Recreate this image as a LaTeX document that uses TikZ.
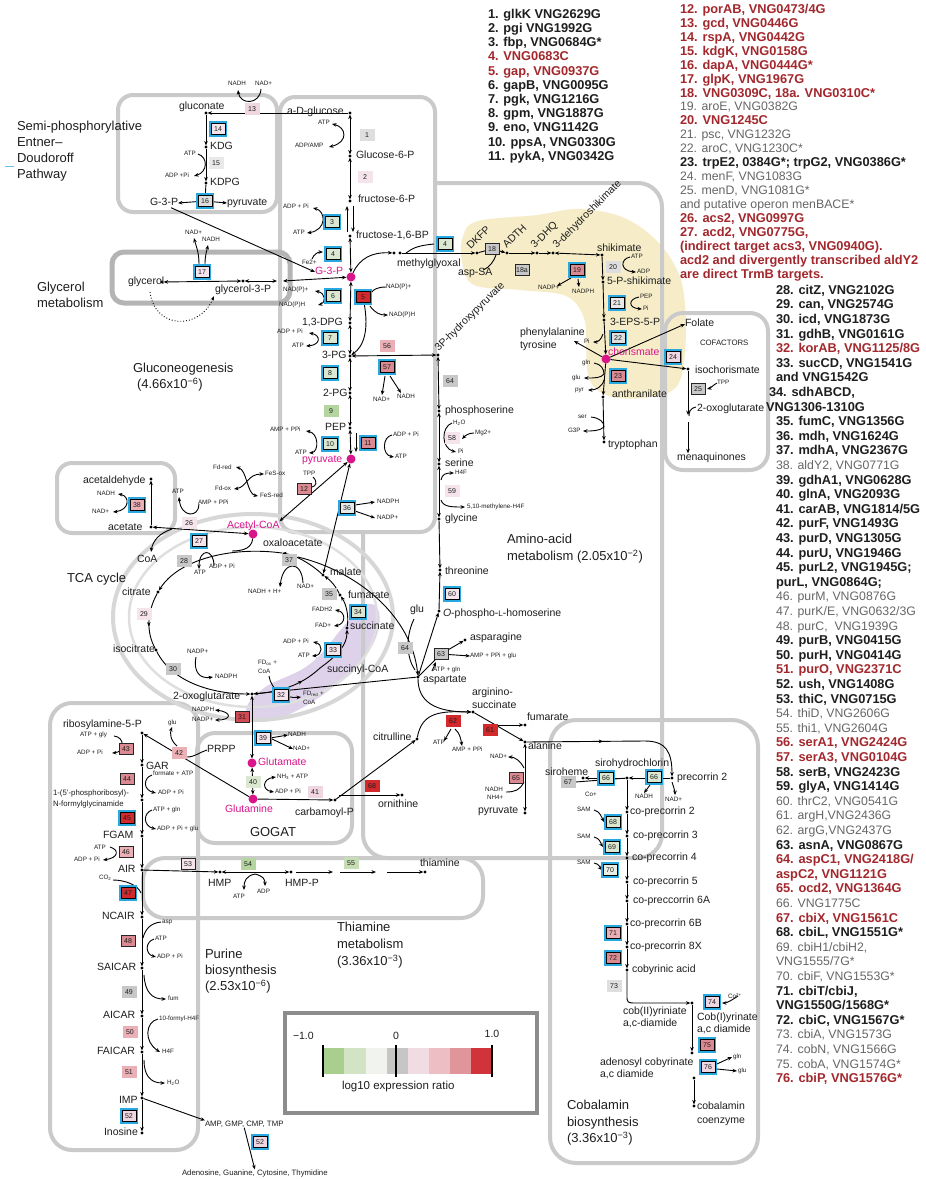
\documentclass[tikz,border=0pt]{standalone}
\usepackage{fontspec}
\setmainfont{Liberation Sans}
\usetikzlibrary{arrows.meta,decorations.markings,calc}
\pgfdeclarelayer{back}
\pgfdeclarelayer{lines}
\pgfsetlayers{back,lines,main}
\definecolor{cyanE}{HTML}{29A8E0}
\definecolor{regc}{HTML}{CACACA}
\definecolor{regd}{HTML}{B4B4B4}
\definecolor{lred}{HTML}{A3282D}
\definecolor{lgray}{HTML}{666666}
\definecolor{mag}{HTML}{D9158C}
\definecolor{txt}{HTML}{1E1E1E}
\definecolor{yel}{HTML}{F6EDC8}
\definecolor{lav}{HTML}{DDD2EA}
\definecolor{legc}{HTML}{8C8C8C}
\definecolor{gA}{HTML}{C8C8C8}
\definecolor{gB}{HTML}{DEDEDE}
\definecolor{gC}{HTML}{E9E9E9}
\definecolor{grA}{HTML}{B5D5A0}
\definecolor{grB}{HTML}{DCE7D2}
\definecolor{grC}{HTML}{E9F0E2}
\definecolor{grD}{HTML}{C6DDB5}
\definecolor{pA}{HTML}{F5E4EC}
\definecolor{pB}{HTML}{F0D6E0}
\definecolor{pC}{HTML}{EAB0B6}
\definecolor{pD}{HTML}{DB8A92}
\definecolor{rA}{HTML}{D2292C}
\definecolor{rB}{HTML}{D04A55}
\definecolor{lc1}{HTML}{A9CF8F}
\definecolor{lc2}{HTML}{D2E4C4}
\definecolor{lc3}{HTML}{F1F4EE}
\definecolor{lc4}{HTML}{C6C6C6}
\definecolor{lc5}{HTML}{F2DCE4}
\definecolor{lc6}{HTML}{EDBFC4}
\definecolor{lc7}{HTML}{E0959B}
\definecolor{lc8}{HTML}{D0343A}
\newcommand{\mlab}[4]{\node[lab] (#1) at (#2,#3) {#4};}
\newcommand{\mglab}[4]{\node[mg] (#1) at (#2,#3) {#4};}
\newcommand{\smlab}[4]{\node[sm] (#1) at (#2,#3) {#4};}
\newcommand{\enzC}[5]{\node[cbx,fill=#5] (#1) at (#2,#3) {#4};}
\newcommand{\enzB}[5]{\node[bbx,fill=#5] (#1) at (#2,#3) {#4};}
\newcommand{\enzP}[5]{\node[pbx,fill=#5] (#1) at (#2,#3) {#4};}
\newcommand{\dotn}[3]{\node[dotst] (#1) at (#2,#3) {};}
\newcommand{\gline}[5]{\node[#4] (#1) at (#2,#3) {#5};}
\begin{document}
\begin{tikzpicture}[x=1pt,y=-1pt,
  every node/.style={text=txt,inner sep=0pt,outer sep=0pt},
  lab/.style={font=\fontsize{10.5}{12}\selectfont,anchor=west,text height=7.4pt,text depth=2pt},
  mg/.style={lab,text=mag},
  sm/.style={font=\fontsize{6.3}{7}\selectfont,anchor=west,text height=4.5pt,text depth=1.2pt},
  ssm/.style={font=\fontsize{7.8}{9}\selectfont,anchor=west,text height=5.6pt,text depth=1.6pt},
  ttl/.style={font=\fontsize{13}{15}\selectfont,anchor=west,text height=9.3pt,text depth=2.6pt},
  lb/.style={font=\fontsize{12.8}{14}\selectfont\bfseries,anchor=west,text height=9.2pt,text depth=2.5pt},
  lr/.style={lb,text=lred},
  lg/.style={font=\fontsize{12.3}{14}\selectfont,anchor=west,text=lgray,text height=8.8pt,text depth=2.4pt},
  cbx/.style={draw=black,line width=0.9pt,minimum width=14pt,minimum height=11.5pt,font=\fontsize{7}{8}\selectfont,preaction={draw=cyanE,line width=4.2pt}},
  bbx/.style={draw=black!85,line width=0.9pt,minimum width=14pt,minimum height=11.5pt,font=\fontsize{7}{8}\selectfont},
  pbx/.style={minimum width=15pt,minimum height=12.5pt,font=\fontsize{7}{8}\selectfont},
  dotst/.style={circle,fill=black,minimum size=3.2pt},
  mdot/.style={circle,fill=mag,minimum size=9pt},
  ar/.style={-{Stealth[length=4.5pt,width=3.6pt]},line width=0.9pt},
  dar/.style={{Stealth[length=4.5pt,width=3.6pt]}-{Stealth[length=4.5pt,width=3.6pt]},line width=0.9pt},
  ln/.style={line width=0.9pt},
  midar/.style={postaction={decorate,decoration={markings,mark=at position #1 with {\arrow{Stealth[length=4.5pt,width=3.6pt]}}}}},
  region/.style={draw=regc,line width=4pt,rounded corners=18pt}
]
\useasboundingbox (0,0) rectangle (926,1179);

% ================= enzyme boxes =================
\enzP{e1}{367}{135}{1}{gB}
\enzP{e2}{365}{177}{2}{pA}
\enzC{e3}{332}{222}{3}{grB}
\enzC{e4}{333}{254}{4}{grB}
\enzC{e4b}{445}{244}{4}{grB}
\enzC{e5}{363}{297}{5}{rA}
\enzC{e6}{333}{296}{6}{grB}
\enzC{e7}{330}{338}{7}{grB}
\enzC{e8}{330}{373}{8}{grB}
\enzP{e9}{331}{411}{9}{grA}
\enzC{e10}{330}{444}{10}{grB}
\enzC{e11}{368}{443}{11}{pD}
\enzB{e12}{304}{489}{12}{pD}
\enzP{e13}{252}{109}{13}{pB}
\enzC{e14}{218}{129}{14}{pA}
\enzP{e15}{216}{163}{15}{gC}
\enzC{e16}{205}{201}{16}{gB}
\enzC{e17}{202}{272}{17}{pA}
\enzB{e18}{492}{249}{18}{gA}
\enzB{e18a}{522}{270}{18a}{gA}
\enzC{e19}{577}{270}{19}{pD}
\enzP{e20}{613}{267}{20}{gB}
\enzC{e21}{617}{303}{21}{gC}
\enzC{e22}{618}{338}{22}{gB}
\enzC{e23}{618}{376}{23}{pD}
\enzC{e24}{673}{357}{24}{pB}
\enzB{e25}{698}{389}{25}{gA}
\enzP{e26}{189}{523}{26}{pA}
\enzC{e27}{199}{541}{27}{pA}
\enzP{e28}{184}{561}{28}{gA}
\enzP{e29}{144}{614}{29}{pA}
\enzP{e30}{173}{669}{30}{gA}
\enzB{e31}{242}{717}{31}{rB}
\enzC{e32}{281}{695}{32}{pA}
\enzC{e33}{333}{650}{33}{pA}
\enzC{e34}{358}{612}{34}{grB}
\enzP{e35}{329}{594}{35}{gA}
\enzC{e36}{347}{508}{36}{gC}
\enzP{e37}{289}{560}{37}{gA}
\enzC{e38}{137}{505}{38}{pC}
\enzC{e39}{263}{738}{39}{pA}
\enzP{e40}{253}{782}{40}{grB}
\enzP{e41}{315}{792}{41}{pB}
\enzP{e42}{179}{753}{42}{pC}
\enzB{e43}{126}{749}{43}{pD}
\enzB{e44}{127}{779}{44}{pD}
\enzC{e45}{127}{818}{45}{rA}
\enzB{e46}{126}{852}{46}{pC}
\enzC{e47}{128}{893}{47}{rA}
\enzB{e48}{128}{941}{48}{pD}
\enzP{e49}{129}{992}{49}{gA}
\enzP{e50}{130}{1032}{50}{pC}
\enzP{e51}{129}{1072}{51}{pC}
\enzC{e52}{129}{1116}{52}{pB}
\enzC{e52b}{260}{1142}{52}{pB}
\enzB{e53}{188}{864}{53}{pA}
\enzP{e54}{248}{864}{54}{grA}
\enzP{e55}{351}{863}{55}{grD}
\enzP{e56}{387}{346}{56}{pC}
\enzC{e57}{387}{367}{57}{pD}
\enzP{e58}{452}{438}{58}{pA}
\enzP{e59}{452}{491}{59}{pA}
\enzC{e60}{452}{594}{60}{pA}
\enzP{e61}{490}{730}{61}{rA}
\enzP{e62}{453}{721}{62}{rA}
\enzB{e63}{441}{654}{63}{gA}
\enzP{e64}{450}{381}{64}{gA}
\enzP{e64b}{405}{648}{64}{gA}
\enzB{e65}{516}{778}{65}{pD}
\enzC{e66}{606}{778}{66}{grB}
\enzC{e66b}{654}{777}{66}{grB}
\enzP{e67}{568}{782}{67}{gA}
\enzP{e68}{372}{786}{68}{rA}
\enzC{e68c}{613}{822}{68}{grB}
\enzC{e69}{612}{847}{69}{grB}
\enzC{e70}{610}{870}{70}{grC}
\enzC{e71}{613}{933}{71}{pC}
\enzC{e72}{613}{958}{72}{pD}
\enzP{e73}{614}{986}{73}{gB}
\enzC{e74}{712}{1002}{74}{pB}
\enzC{e75}{707}{1045}{75}{pD}
\enzC{e76}{708}{1067}{76}{pB}

% ================= dots =================
\dotn{dGluc}{206}{113}
\dotn{dGlc}{350}{113}
\dotn{dKDG}{206}{147}
\dotn{dKDPG}{206}{183}
\dotn{dG6P}{350}{156}
\dotn{dF6P}{350}{201}
\dotn{dF16}{350}{236}
\node[mdot] (mG3P) at (351,277) {};
\dotn{dMG1}{394}{253}
\dotn{dMG2}{400}{253}
\dotn{dGlyc}{162}{282}
\dotn{dGl3P}{243}{281}
\dotn{dDPG}{350}{323}
\dotn{dPG3}{350}{356}
\dotn{dPG2}{350}{393}
\dotn{dPEP}{350}{428}
\node[mdot] (mPyr) at (351,459) {};
\dotn{dAld}{151}{479}
\dotn{dAcet}{151}{527}
\node[mdot] (mAcoa) at (253,534) {};
\dotn{dCit}{158}{592}
\dotn{dIcit}{156}{650}
\dotn{dOxg}{252}{694}
\dotn{dMal}{323}{575}
\dotn{dFum}{340}{595}
\dotn{dSuc}{347}{628}
\node[mdot] (mGlu) at (252,763) {};
\node[mdot] (mGln) at (253,799) {};
\dotn{dCP}{335}{800}
\dotn{dCitr}{417}{739}
\dotn{dOrn}{402}{795}
\dotn{dR5P}{142}{733}
\dotn{dGAR}{142}{765}
\dotn{dFGAR}{142}{800}
\dotn{dFGAM}{142}{836}
\dotn{dAIR}{142}{870}
\dotn{dNCAIR}{142}{917}
\dotn{dSAICAR}{142}{968}
\dotn{dAICAR}{142}{1016}
\dotn{dFAICAR}{142}{1052}
\dotn{dIMP}{142}{1098}
\dotn{dIno}{142}{1133}
\dotn{dHMP}{220}{872}
\dotn{dHMPP}{291}{872}
\dotn{dThi}{425}{872}
\dotn{d3PHP}{438}{355}
\dotn{dPser}{439}{411}
\dotn{dSer}{439}{464}
\dotn{dGly}{439}{519}
\dotn{dThr}{440}{570}
\dotn{dOph}{439}{611}
\dotn{dAsn}{465}{640}
\dotn{dAsp}{418}{677}
\dotn{dArgs}{473}{712}
\dotn{dFumA}{525}{725}
\dotn{dAla}{525}{742}
\dotn{dPyrA}{525}{813}
\dotn{dDKFP}{477}{253}
\dotn{dADTH}{507}{253}
\dotn{dDHQ}{537}{253}
\dotn{dDHS}{553}{253}
\dotn{dShik}{602}{255}
\dotn{d5PS}{603}{282}
\dotn{dEPS}{604}{320}
\node[mdot] (mChor) at (606,359) {};
\dotn{dIsoc}{688}{369}
\dotn{dAnth}{603}{397}
\dotn{dTrp}{604}{442}
\dotn{dSirh}{583}{778}
\dotn{dShc}{627}{778}
\dotn{dPrc2}{672}{778}
\dotn{dCp2}{627}{812}
\dotn{dCp3}{627}{836}
\dotn{dCp4}{627}{858}
\dotn{dCp5}{627}{882}
\dotn{dCp6A}{627}{901}
\dotn{dCp6B}{627}{924}
\dotn{dCp8X}{627}{947}
\dotn{dCby}{627}{970}
\dotn{dCob2}{692}{1003}
\dotn{dAdo}{692}{1053}
\dotn{dAdo2}{694}{1078}
\dotn{dCbl}{694}{1106}

% ================= metabolite labels =================
\mlab{tGluc}{179}{107}{gluconate}
\mlab{tKDG}{210}{147}{KDG}
\mlab{tKDPG}{210}{183}{KDPG}
\mlab{tG3Ped}{150}{203}{G-3-P}
\mlab{tPyred}{227}{203}{pyruvate}
\mlab{tGlc}{287}{112}{a-D-glucose}
\mlab{tG6P}{356}{156}{Glucose-6-P}
\mlab{tF6P}{358}{200}{fructose-6-P}
\mlab{tF16}{356}{236}{fructose-1,6-BP}
\mglab{tG3Pm}{315}{272}{G-3-P}
\mlab{tMG}{397}{264}{methylglyoxal}
\mlab{tGlyc}{128}{282}{glycerol}
\mlab{tGl3P}{215}{290}{glycerol-3-P}
\mlab{tDPG}{302}{323}{1,3-DPG}
\mlab{tPG3}{322}{356}{3-PG}
\mlab{tPG2}{323}{394}{2-PG}
\mlab{tPEP}{325}{428}{PEP}
\mglab{tPyrm}{302}{460}{pyruvate}
\mlab{tAld}{83}{481}{acetaldehyde}
\mlab{tAcet}{108}{528}{acetate}
\mlab{tCoA}{137}{560}{CoA}
\mglab{tAcoa}{227}{526}{Acetyl-CoA}
\mlab{tOaa}{263}{544}{oxaloacetate}
\mlab{tCit}{122}{593}{citrate}
\mlab{tIcit}{113}{650}{isocitrate}
\mlab{tOxg}{173}{697}{2-oxoglutarate}
\mlab{tMal}{330}{573}{malate}
\mlab{tFum}{348}{596}{fumarate}
\mlab{tSuc}{350}{627}{succinate}
\mlab{tSCoA}{327}{670}{succinyl-CoA}
\mglab{tGlu}{258}{763}{Glutamate}
\mglab{tGln}{225}{810}{Glutamine}
\mlab{tCP}{295}{813}{carbamoyl-P}
\mlab{tCitr}{373}{738}{citrulline}
\mlab{tOrn}{378}{805}{ornithine}
\mlab{tPRPP}{207}{750}{PRPP}
\mlab{tR5P}{63}{725}{ribosylamine-5-P}
\mlab{tGAR}{146}{767}{GAR}
\node[ssm] (tFGAR1) at (53,793) {1-(5'-phosphoribosyl)-};
\node[ssm] (tFGAR2) at (53,804) {N-formylglycinamide};
\mlab{tFGAM}{103}{836}{FGAM}
\mlab{tAIR}{118}{870}{AIR}
\mlab{tNCAIR}{102}{917}{NCAIR}
\mlab{tSAICAR}{97}{968}{SAICAR}
\mlab{tAICAR}{103}{1016}{AICAR}
\mlab{tFAICAR}{97}{1052}{FAICAR}
\mlab{tIMP}{119}{1101}{IMP}
\mlab{tIno}{104}{1133}{Inosine}
\node[ssm] (tAMP) at (205,1124) {AMP, GMP, CMP, TMP};
\node[ssm] (tAden) at (182,1173) {Adenosine, Guanine, Cytosine, Thymidine};
\mlab{tHMP}{208}{884}{HMP}
\mlab{tHMPP}{285}{884}{HMP-P}
\mlab{tThi}{420}{864}{thiamine}
\node[lab,rotate=45] (t3PHP) at (437,350) {3P-hydroxypyruvate};
\mlab{tPser}{445}{411}{phosphoserine}
\mlab{tSer}{445}{464}{serine}
\mlab{tGly}{445}{519}{glycine}
\mlab{tThr}{445}{572}{threonine}
\mlab{tOph}{443}{614}{\textit{O}-phospho-{\fontsize{8}{9}\selectfont L}-homoserine}
\mlab{tAsn}{470}{638}{asparagine}
\mlab{tAsp}{423}{680}{aspartate}
\mlab{tGluA}{410}{610}{glu}
\mlab{tArg1}{472}{693}{arginino-}
\mlab{tArg2}{472}{706}{succinate}
\mlab{tFumA}{527}{718}{fumarate}
\mlab{tAla}{528}{747}{alanine}
\mlab{tPyrA}{478}{811}{pyruvate}
\node[lab,rotate=45] (tDKFP) at (469,248) {DKFP};
\node[lab,rotate=45] (tADTH) at (505,247) {ADTH};
\node[lab,rotate=45] (tDHQ) at (533,247) {3-DHQ};
\node[lab,rotate=45] (tDHS) at (555,247) {3-dehydroshikimate};
\mlab{tAspSA}{458}{273}{asp-SA}
\mlab{tShik}{597}{249}{shikimate}
\mlab{t5PS}{607}{282}{5-P-shikimate}
\mlab{tEPS}{610}{323}{3-EPS-5-P}
\mglab{tChor}{608}{353}{chorismate}
\mlab{tPhe}{520}{333}{phenylalanine}
\mlab{tTyr}{520}{346}{tyrosine}
\mlab{tFol}{685}{324}{Folate}
\mlab{tIsoc}{695}{371}{isochorismate}
\node[ssm] (tCof) at (700,343) {COFACTORS};
\mlab{tOxgC}{697}{409}{2-oxoglutarate}
\mlab{tMena}{677}{458}{menaquinones}
\mlab{tAnth}{612}{395}{anthranilate}
\mlab{tTrp}{608}{445}{tryptophan}
\mlab{tShc}{595}{764}{sirohydrochlorin}
\mlab{tSirh}{545}{773}{siroheme}
\mlab{tPrc2}{677}{778}{precorrin 2}
\mlab{tCp2}{630}{812}{co-precorrin 2}
\mlab{tCp3}{633}{836}{co-precorrin 3}
\mlab{tCp4}{632}{858}{co-precorrin 4}
\mlab{tCp5}{633}{882}{co-precorrin 5}
\mlab{tCp6A}{633}{901}{co-preccorrin 6A}
\mlab{tCp6B}{630}{924}{co-precorrin 6B}
\mlab{tCp8X}{630}{947}{co-precorrin 8X}
\mlab{tCby}{632}{970}{cobyrinic acid}
\mlab{tCob2a}{623}{1012}{cob(II)yriniate}
\mlab{tCob2b}{623}{1024}{a,c-diamide}
\mlab{tCob1a}{697}{1018}{Cob(I)yrinate}
\mlab{tCob1b}{697}{1030}{a,c diamide}
\mlab{tAdoa}{600}{1063}{adenosyl cobyrinate}
\mlab{tAdob}{600}{1075}{a,c diamide}
\mlab{tCbla}{697}{1107}{cobalamin}
\mlab{tCblb}{697}{1121}{coenzyme}

% ================= small cofactor labels =================
\smlab{s13a}{228}{84}{NADH}
\smlab{s13b}{255}{84}{NAD+}
\smlab{s15a}{184}{154}{ATP}
\smlab{s15b}{165}{176}{ADP +Pi}
\smlab{s1a}{318}{123}{ATP}
\smlab{s1b}{295}{146}{ADP/AMP}
\smlab{s3a}{283}{207}{ADP + Pi}
\smlab{s3b}{293}{233}{ATP}
\smlab{s4}{302}{263}{Fe2+}
\smlab{s17a}{185}{233}{NAD+}
\smlab{s17b}{202}{240}{NADH}
\smlab{s6a}{283}{290}{NAD(P)+}
\smlab{s6b}{279}{305}{NAD(P)H}
\smlab{s5a}{386}{287}{NAD(P)+}
\smlab{s5b}{389}{315}{NAD(P)H}
\smlab{s7a}{277}{332}{ADP + Pi}
\smlab{s7b}{292}{346}{ATP}
\smlab{s57a}{373}{400}{NAD+}
\smlab{s57b}{397}{397}{NADH}
\smlab{s10a}{270}{430}{AMP + PPi}
\smlab{s10b}{295}{453}{ATP}
\smlab{s11a}{393}{435}{ADP + Pi}
\smlab{s11b}{395}{457}{ATP}
\smlab{s12a}{213}{468}{Fd-red}
\smlab{s12b}{215}{489}{Fd-ox}
\smlab{s12c}{265}{474}{FeS-ox}
\smlab{s12d}{260}{496}{FeS-red}
\smlab{s12e}{303}{474}{TPP}
\smlab{s26a}{172}{492}{ATP}
\smlab{s26b}{198}{503}{AMP + PPi}
\smlab{s38a}{97}{494}{NADH}
\smlab{s38b}{92}{512}{NAD+}
\smlab{s36a}{377}{502}{NADPH}
\smlab{s36b}{377}{518}{NADP+}
\smlab{s28a}{209}{567}{ADP + Pi}
\smlab{s28b}{194}{573}{ATP}
\smlab{s37a}{248}{592}{NADH + H+}
\smlab{s37b}{297}{587}{NAD+}
\smlab{s34a}{312}{610}{FADH2}
\smlab{s34b}{315}{626}{FAD+}
\smlab{s33a}{283}{642}{ADP + Pi}
\smlab{s33b}{298}{656}{ATP}
\smlab{s32a}{258}{663}{FD\textsubscript{ox} +}
\smlab{s32b}{258}{672}{CoA}
\smlab{s32c}{303}{694}{FD\textsubscript{red} +}
\smlab{s32d}{303}{703}{CoA}
\smlab{s30a}{187}{652}{NADP+}
\smlab{s30b}{215}{677}{NADPH}
\smlab{s31a}{192}{710}{NADPH}
\smlab{s31b}{192}{720}{NADP+}
\smlab{s39a}{288}{735}{NADH}
\smlab{s39b}{293}{749}{NAD+}
\smlab{s40a}{277}{777}{NH\textsubscript{3} + ATP}
\smlab{s40b}{275}{792}{ADP + Pi}
\smlab{s42}{168}{723}{glu}
\smlab{s43a}{80}{735}{ATP + gly}
\smlab{s43b}{77}{753}{ADP + Pi}
\smlab{s44a}{153}{774}{formate + ATP}
\smlab{s44b}{158}{793}{ADP + Pi}
\smlab{s45a}{153}{810}{ATP + gln}
\smlab{s45b}{157}{829}{ADP + Pi + glu}
\smlab{s46a}{94}{848}{ATP}
\smlab{s46b}{74}{860}{ADP + Pi}
\smlab{s47}{99}{878}{CO\textsubscript{2}}
\smlab{s48a}{162}{922}{asp}
\smlab{s48b}{155}{939}{ATP}
\smlab{s48c}{157}{957}{ADP + Pi}
\smlab{s49}{168}{999}{fum}
\smlab{s50a}{159}{1019}{10-formyl-H4F}
\smlab{s50b}{162}{1052}{H4F}
\smlab{s51}{167}{1083}{H\textsubscript{2}O}
\smlab{s54a}{233}{897}{ATP}
\smlab{s54b}{257}{892}{ADP}
\smlab{s58a}{453}{423}{H\textsubscript{2}O}
\smlab{s58b}{475}{433}{Mg2+}
\smlab{s58c}{458}{452}{Pi}
\smlab{s59a}{455}{473}{H4F}
\smlab{s59b}{467}{507}{5,10-methylene-H4F}
\smlab{s63a}{433}{670}{ATP + gln}
\smlab{s63b}{470}{656}{AMP + PPi + glu}
\smlab{s62a}{433}{743}{ATP}
\smlab{s62b}{452}{750}{AMP + PPi}
\smlab{s65a}{490}{757}{NAD+}
\smlab{s65b}{485}{790}{NADH}
\smlab{s65c}{487}{798}{NH4+}
\smlab{s19a}{538}{288}{NADP+}
\smlab{s19b}{572}{292}{NADPH}
\smlab{s20a}{631}{257}{ATP}
\smlab{s20b}{637}{272}{ADP}
\smlab{s21a}{640}{297}{PEP}
\smlab{s21b}{643}{309}{Pi}
\smlab{s22}{584}{342}{Pi}
\smlab{s23a}{582}{363}{gln}
\smlab{s23b}{572}{378}{glu}
\smlab{s23c}{575}{390}{pyr}
\smlab{s23d}{578}{417}{ser}
\smlab{s23e}{568}{431}{G3P}
\smlab{s25}{717}{383}{TPP}
\smlab{sSAM1}{577}{810}{SAM}
\smlab{sSAM2}{577}{837}{SAM}
\smlab{sSAM3}{577}{863}{SAM}
\smlab{s66a}{635}{797}{NADH}
\smlab{s66b}{665}{800}{NAD+}
\smlab{s67}{585}{795}{Co+}
\smlab{s74}{728}{997}{Co\textsuperscript{2+}}
\smlab{s76a}{733}{1057}{gln}
\smlab{s76b}{738}{1071}{glu}

% ================= titles =================
\node[ttl] (h1a) at (17,127) {Semi-phosphorylative};
\node[ttl] (h1b) at (17,143) {Entner–};
\node[ttl] (h1c) at (17,159) {Doudoroff};
\node[ttl] (h1d) at (17,175) {Pathway};
\node[ttl] (h2a) at (37,288) {Glycerol};
\node[ttl] (h2b) at (37,304) {metabolism};
\node[ttl] (h3a) at (133,369) {Gluconeogenesis};
\node[ttl] (h3b) at (137,385) {(4.66x10\textsuperscript{−6})};
\node[ttl] (h4) at (67,579) {TCA cycle};
\node[ttl] (h5a) at (507,540) {Amino-acid};
\node[ttl] (h5b) at (507,557) {metabolism (2.05x10\textsuperscript{−2})};
\node[ttl] (h6) at (250,833) {GOGAT};
\node[ttl] (h7a) at (337,928) {Thiamine};
\node[ttl] (h7b) at (337,945) {metabolism};
\node[ttl] (h7c) at (337,962) {(3.36x10\textsuperscript{−3})};
\node[ttl] (h8a) at (205,955) {Purine};
\node[ttl] (h8b) at (205,971) {biosynthesis};
\node[ttl] (h8c) at (205,987) {(2.53x10\textsuperscript{−6})};
\node[ttl] (h9a) at (567,1106) {Cobalamin};
\node[ttl] (h9b) at (567,1123) {biosynthesis};
\node[ttl] (h9c) at (567,1139) {(3.36x10\textsuperscript{−3})};

% ================= legend =================
\node[lab] (lgm) at (293,1037) {−1.0};
\node[lab,anchor=center] (lg0) at (396,1037) {0};
\node[lab,anchor=center] (lg1) at (492,1035) {1.0};
\node[lab,font=\fontsize{11.5}{13}\selectfont] (lgt) at (342,1087) {log10 expression ratio};

% ================= gene lists =================
\gline{A1}{488}{15}{lb}{1. glkK VNG2629G}
\gline{A2}{488}{29.2}{lb}{2. pgi VNG1992G}
\gline{A3}{488}{43.4}{lb}{3. fbp, VNG0684G*}
\gline{A4}{488}{57.6}{lr}{4. VNG0683C}
\gline{A5}{488}{71.8}{lr}{5. gap, VNG0937G}
\gline{A6}{488}{86}{lb}{6. gapB, VNG0095G}
\gline{A7}{488}{100.2}{lb}{7. pgk, VNG1216G}
\gline{A8}{488}{114.4}{lb}{8. gpm, VNG1887G}
\gline{A9}{488}{128.6}{lb}{9. eno, VNG1142G}
\gline{A10}{488}{142.8}{lb}{10. ppsA, VNG0330G}
\gline{A11}{488}{157}{lb}{11. pykA, VNG0342G}

\gline{B12}{680}{10}{lr}{12. porAB, VNG0473/4G}
\gline{B13}{680}{23.95}{lr}{13. gcd, VNG0446G}
\gline{B14}{680}{37.9}{lr}{14. rspA, VNG0442G}
\gline{B15}{680}{51.85}{lr}{15. kdgK, VNG0158G}
\gline{B16}{680}{65.8}{lr}{16. dapA, VNG0444G*}
\gline{B17}{680}{79.75}{lr}{17. glpK, VNG1967G}
\gline{B18}{680}{93.7}{lr}{18. VNG0309C, 18a. VNG0310C*}
\gline{B19}{680}{107.65}{lg}{19. aroE, VNG0382G}
\gline{B20}{680}{121.6}{lr}{20. VNG1245C}
\gline{B21}{680}{135.55}{lg}{21. psc, VNG1232G}
\gline{B22}{680}{149.5}{lg}{22. aroC, VNG1230C*}
\gline{B23}{680}{163.45}{lb}{23. trpE2, 0384G*; trpG2, VNG0386G*}
\gline{B24}{680}{177.4}{lg}{24. menF, VNG1083G}
\gline{B25}{680}{191.35}{lg}{25. menD, VNG1081G*}
\gline{B25b}{680}{205.3}{lg}{and putative operon menBACE*}
\gline{B26}{680}{219.25}{lr}{26. acs2, VNG0997G}
\gline{B27}{680}{233.2}{lr}{27. acd2, VNG0775G,}
\gline{B27b}{680}{247.15}{lr}{(indirect target acs3, VNG0940G).}
\gline{B27c}{680}{261.1}{lr}{acd2 and divergently transcribed aldY2}
\gline{B27d}{680}{275.05}{lr}{are direct TrmB targets.}

\gline{C28}{776}{291}{lb}{28. citZ, VNG2102G}
\gline{C29}{776}{305.6}{lb}{29. can, VNG2574G}
\gline{C30}{776}{320.2}{lb}{30. icd, VNG1873G}
\gline{C31}{776}{334.8}{lb}{31. gdhB, VNG0161G}
\gline{C32}{776}{349.4}{lr}{32. korAB, VNG1125/8G}
\gline{C33}{776}{364}{lb}{33. sucCD, VNG1541G}
\gline{C33b}{776}{378.6}{lb}{and VNG1542G}
\gline{C34}{769}{393.2}{lb}{34. sdhABCD,}
\gline{C34b}{766}{407.8}{lb}{VNG1306-1310G}
\gline{C35}{776}{422.4}{lb}{35. fumC, VNG1356G}
\gline{C36}{776}{437}{lb}{36. mdh, VNG1624G}
\gline{C37}{776}{451.6}{lb}{37. mdhA, VNG2367G}
\gline{C38}{776}{466.2}{lg}{38. aldY2, VNG0771G}
\gline{C39}{776}{480.8}{lb}{39. gdhA1, VNG0628G}
\gline{C40}{776}{495.4}{lb}{40. glnA, VNG2093G}
\gline{C41}{776}{510}{lb}{41. carAB, VNG1814/5G}
\gline{C42}{776}{524.6}{lb}{42. purF, VNG1493G}
\gline{C43}{776}{539.2}{lb}{43. purD, VNG1305G}
\gline{C44}{776}{553.8}{lb}{44. purU, VNG1946G}
\gline{C45}{776}{568.4}{lb}{45. purL2, VNG1945G;}
\gline{C45b}{776}{583}{lb}{purL, VNG0864G;}
\gline{C46}{776}{597.6}{lg}{46. purM, VNG0876G}
\gline{C47}{776}{612.2}{lg}{47. purK/E, VNG0632/3G}
\gline{C48}{776}{626.8}{lg}{48. purC,\ \ VNG1939G}
\gline{C49}{776}{641.4}{lb}{49. purB, VNG0415G}
\gline{C50}{776}{656}{lb}{50. purH, VNG0414G}
\gline{C51}{776}{670.6}{lr}{51. purO, VNG2371C}
\gline{C52}{776}{685.2}{lb}{52. ush, VNG1408G}
\gline{C53}{776}{699.8}{lb}{53. thiC, VNG0715G}
\gline{C54}{776}{714.4}{lg}{54. thiD, VNG2606G}
\gline{C55}{776}{729}{lg}{55. thi1, VNG2604G}
\gline{C56}{776}{743.6}{lr}{56. serA1, VNG2424G}
\gline{C57}{776}{758.2}{lr}{57. serA3, VNG0104G}
\gline{C58}{776}{772.8}{lb}{58. serB, VNG2423G}
\gline{C59}{776}{787.4}{lb}{59. glyA, VNG1414G}
\gline{C60}{776}{802}{lg}{60. thrC2, VNG0541G}
\gline{C61}{776}{816.6}{lg}{61. argH,VNG2436G}
\gline{C62}{776}{831.2}{lg}{62. argG,VNG2437G}
\gline{C63}{776}{845.8}{lb}{63. asnA, VNG0867G}
\gline{C64}{776}{860.4}{lr}{64. aspC1, VNG2418G/}
\gline{C64b}{776}{875}{lr}{aspC2, VNG1121G}
\gline{C65}{776}{889.6}{lr}{65. ocd2, VNG1364G}
\gline{C66}{776}{904.2}{lg}{66. VNG1775C}
\gline{C67}{776}{918.8}{lr}{67. cbiX, VNG1561C}
\gline{C68}{776}{933.4}{lb}{68. cbiL, VNG1551G*}
\gline{C69}{776}{948}{lg}{69. cbiH1/cbiH2,}
\gline{C69b}{776}{962.6}{lg}{VNG1555/7G*}
\gline{C70}{776}{977.2}{lg}{70. cbiF, VNG1553G*}
\gline{C71}{776}{991.8}{lb}{71. cbiT/cbiJ,}
\gline{C71b}{776}{1006.4}{lb}{VNG1550G/1568G*}
\gline{C72}{776}{1021}{lb}{72. cbiC, VNG1567G*}
\gline{C73}{776}{1035.6}{lg}{73. cbiA, VNG1573G}
\gline{C74}{776}{1050.2}{lg}{74. cobN, VNG1566G}
\gline{C75}{776}{1064.8}{lg}{75. cobA, VNG1574G*}
\gline{C76}{776}{1079.4}{lr}{76. cbiP, VNG1576G*}

% ================= background layer =================
\begin{pgfonlayer}{back}
\fill[white] (0,0) rectangle (926,1179);
\fill[yel] plot[smooth cycle,tension=0.6] coordinates {(463,236) (478,221) (537,215) (578,209) (622,217) (656,240) (678,272) (685,305) (685,352) (677,386) (651,397) (612,397) (590,381) (586,346) (584,318) (566,296) (520,290) (474,285) (462,262)};
\fill[lav] plot[smooth cycle,tension=0.7] coordinates {(246,711) (264,688) (310,664) (344,626) (364,605) (379,612) (372,646) (340,681) (300,709) (262,722)};
\draw[region,rounded corners=24pt] (363,183) rectangle (662,858);
\draw[region,fill=white,rounded corners=15pt] (280,97) rectangle (435,532);
\draw[region,rounded corners=15pt] (118,95) rectangle (277,212);
\draw[region,draw=regd,line width=5pt,rounded corners=12pt] (112,252) rectangle (290,303);
\draw[region,rounded corners=15pt] (57,463) rectangle (175,533);
\draw[region,rounded corners=22pt] (50,703) rectangle (198,1150);
\draw[region] (197,733) rectangle (352,843);
\draw[region,rounded corners=22pt] (143,858) rectangle (483,918);
\draw[region,rounded corners=26pt] (550,720) rectangle (758,1163);
\draw[region] (665,313) rectangle (768,470);
\draw[regc!75,line width=4pt] (253,617) ellipse (140 and 103);
\draw[regc!60,line width=2.5pt] (253,617) ellipse (124 and 90);
\draw[legc,line width=4.5pt] (285,1013) rectangle (537,1113);
\fill[lc1] (323,1048) rectangle (344,1074);
\fill[lc2] (344,1048) rectangle (366,1074);
\fill[lc3] (366,1048) rectangle (387,1074);
\fill[lc4] (387,1048) rectangle (408,1074);
\fill[lc5] (408,1048) rectangle (429,1074);
\fill[lc6] (429,1048) rectangle (450,1074);
\fill[lc7] (450,1048) rectangle (471,1074);
\fill[lc8] (471,1048) rectangle (492,1074);
\draw[line width=1.2pt] (323,1045) -- (323,1077);
\draw[line width=1.2pt] (396,1045) -- (396,1077);
\draw[line width=1.2pt] (492,1045) -- (492,1077);
\draw[cyanE!70,line width=1pt] (5,166) -- (14,166);
\end{pgfonlayer}

% ================= connectors =================
\begin{pgfonlayer}{lines}
% Entner-Doudoroff
\draw[ar] (dGlc) -- (dGluc);
\draw[ar] (dGluc) -- (dKDG);
\draw[ar] (dKDG) -- (dKDPG);
\draw[ln] (dKDPG) -- (e16);
\draw[ar] (e16) -- (tG3Ped.east);
\draw[ar] (e16) -- (tPyred.west);
\draw[ar] ([xshift=-7pt]tG3Ped.south east) -- (tG3Pm.west);
\draw[ar] (261,89) .. controls (260,105) and (240,105) .. (238,90);
\draw[ar] (198,154) .. controls (208,157) and (208,172) .. (194,176);
% glycolysis
\draw[dar] (dGlc) -- (dG6P);
\draw[dar] (dG6P) -- (dF6P);
\draw[ar] ($(dF16)+(-3,-4)$) -- ($(dF6P)+(-3,5)$);
\draw[ar] ($(dF6P)+(3,5)$) -- ($(dF16)+(3,-4)$);
\draw[dar] (dF16) -- (mG3P);
\draw[ar] (mG3P) .. controls (360,258) and (372,252) .. (dMG1);
\draw[ar] (dMG2) -- (dDKFP);
\draw[ln] (406,253) .. controls (411,250) and (413,246) .. (434,244);
\draw[dar] (mG3P) -- (dDPG);
\draw[dar] (dDPG) -- (dPG3);
\draw[dar] (dPG3) -- (dPG2);
\draw[dar] (dPG2) -- (dPEP);
\draw[dar] (dPEP) -- (mPyr);
\draw[ar] (356,433) -- (356,452);
\draw[ar] (e5) .. controls (369,330) and (364,346) .. (dPG3);
\draw[dar] (dPG3) -- (d3PHP);
\draw[dar] (332,124) .. controls (346,127) and (349,142) .. (329,147);
\draw[dar] (313,208) .. controls (326,211) and (327,230) .. (307,233);
\draw[ar] (312,259) .. controls (314,254) and (318,252) .. (323,252);
\draw[dar] (315,291) .. controls (326,293) and (326,303) .. (318,305);
\draw[ln] (386,287) .. controls (377,287) and (373,290) .. (372,292);
\draw[ar] (370,306) .. controls (375,313) and (380,315) .. (388,315);
\draw[dar] (309,333) .. controls (321,335) and (321,345) .. (306,346);
\draw[dar] (306,431) .. controls (319,433) and (319,452) .. (309,453);
\draw[ar] (392,435) .. controls (382,437) and (382,455) .. (394,457);
\draw[ar] (385,376) -- (382,395);
\draw[ar] (390,376) -- (401,393);
% glycerol
\draw[dar] (dGlyc) -- (dGl3P);
\draw[dar] (dGl3P) -- (277,281);
\draw[dar] (283,281) -- (mG3P);
\draw[ar] (199,264) .. controls (199,252) and (196,246) .. (194,238);
\draw[ar] (205,264) .. controls (205,255) and (207,250) .. (208,245);
\draw[ar,dotted] (150,292) .. controls (155,330) and (200,330) .. (214,296);
% pyruvate / acetyl-CoA
\draw[dar] (mPyr) -- (tAcoa.north east);
\draw[dar] (mPyr) -- (dMal);
\draw[ar] (dAcet) -- (dAld);
\draw[dar] (dAcet) -- (mAcoa);
\draw[ar] (172,529) .. controls (160,533) and (153,540) .. (151,552);
\draw[ln] (mAcoa) .. controls (252,547) and (245,551) .. (232,551);
\draw[dar] (236,467) .. controls (247,470) and (247,494) .. (258,496);
\draw[dar] (234,489) .. controls (247,487) and (247,474) .. (264,474);
\draw[ln] (313,477) .. controls (318,482) and (316,486) .. (312,487);
\draw[ar] (199,504) .. controls (199,518) and (181,518) .. (179,497);
\draw[dar] (118,494) .. controls (130,496) and (130,510) .. (113,512);
\draw[ar] (355,505) -- (375,502);
\draw[ar] (355,511) -- (375,518);
% TCA cycle
\draw[ar] (282,553) .. controls (230,546) and (178,560) .. (dCit);
\draw[ln,midar=0.6] (dCit) .. controls (147,612) and (146,632) .. (dIcit);
\draw[ar] (dIcit) .. controls (172,682) and (212,694) .. (dOxg);
\draw[ln,midar=0.7] (dOxg) .. controls (285,692) and (305,682) .. (320,668);
\draw[ar] (320,668) .. controls (338,655) and (347,645) .. (dSuc);
\draw[ar] (dSuc) .. controls (349,615) and (346,604) .. (dFum);
\draw[ar] (dFum) .. controls (335,585) and (330,580) .. (dMal);
\draw[ar] (dMal) .. controls (310,563) and (295,555) .. (282,553);
\draw[ar] (214,566) .. controls (214,548) and (199,548) .. (199,569);
\draw[ar] (303,583) .. controls (302,560) and (283,560) .. (280,587);
\draw[dar] (335,610) .. controls (346,612) and (346,624) .. (334,626);
\draw[dar] (313,642) .. controls (323,644) and (323,655) .. (312,656);
\draw[ar] (269,676) .. controls (271,690) and (285,699) .. (301,697);
\draw[ar] (196,657) .. controls (193,672) and (200,679) .. (213,677);
\draw[dar] (215,710) .. controls (232,712) and (232,720) .. (215,720);
\draw[ar] (298,557) .. controls (360,572) and (412,618) .. (dAsp);
\draw[ln] (414,619) .. controls (404,640) and (408,660) .. (415,670);
\draw[ar] (dAsp) -- (dOxg);
% GOGAT
\draw[dar] (dOxg) -- (mGlu);
\draw[dar] (mGlu) -- (mGln);
\draw[ar] (e39.east) -- (s39a.west);
\draw[ar] (e39.east) -- (s39b.west);
\draw[dar] (276,777) .. controls (262,779) and (262,790) .. (274,792);
\draw[ar] (mGln) -- (dCP);
\draw[ar] (dCP) -- (dCitr);
\draw[ar] ($(dCP)+(4,-5)$) -- (dOrn);
\draw[ar] (mGln) -- (dR5P);
\draw[ln] (tPRPP.west) .. controls (200,752) and (195,757) .. (187,757);
\draw[ar] (177,746) .. controls (170,740) and (170,733) .. (172,727);
% purine
\draw[ar] (dR5P) -- (dGAR);
\draw[ar] (dGAR) -- (dFGAR);
\draw[ar] (dFGAR) -- (dFGAM);
\draw[ar] (dFGAM) -- (dAIR);
\draw[ar] (dAIR) -- (dNCAIR);
\draw[ar] (dNCAIR) -- (dSAICAR);
\draw[ar] (dSAICAR) -- (dAICAR);
\draw[ar] (dAICAR) -- (dFAICAR);
\draw[ar] (dFAICAR) -- (dIMP);
\draw[ar] (dIMP) -- (dIno);
\draw[ar] (dIMP) -- (tAMP.north west);
\draw[ar] (tAMP.south) -- (tAden.north);
\draw[ar] (114,736) .. controls (125,737) and (125,752) .. (112,753);
\draw[ar] (152,775) .. controls (143,778) and (143,790) .. (156,793);
\draw[ar] (152,810) .. controls (143,813) and (143,826) .. (156,829);
\draw[ar] (110,847) .. controls (120,850) and (118,858) .. (103,860);
\draw[ln] (113,880) .. controls (125,880) and (138,885) .. (141,893);
\draw[ln] (161,922) .. controls (150,923) and (145,930) .. (143,938);
\draw[ar] (154,939) .. controls (145,942) and (145,954) .. (156,957);
\draw[ar] (144,975) .. controls (145,992) and (152,999) .. (166,999);
\draw[ar] (158,1019) .. controls (145,1022) and (144,1042) .. (160,1052);
\draw[ar] (144,1060) .. controls (144,1075) and (150,1083) .. (165,1083);
% thiamine
\draw[ar] (dAIR) -- (dHMP);
\draw[dar] (dHMP) -- (dHMPP);
\draw[ar] (255,874) .. controls (246,876) and (244,881) .. (244,890);
\draw[ar] (255,874) .. controls (263,876) and (265,879) .. (265,886);
\draw[ar] (296,872) -- (333,872);
\draw[ar] (340,872) -- (376,872);
\draw[ar] (387,872) -- (dThi);
% amino acids
\draw[dar] (d3PHP) -- (dPser);
\draw[dar] (dPser) -- (dSer);
\draw[dar] (dSer) -- (dGly);
\draw[ar] (dGly) -- (dThr);
\draw[ar] (dOph) -- (dThr);
\draw[ar] (dAsp) -- (dOph);
\draw[ln] (dAsp) -- (e63);
\draw[ar] (e63) -- (dAsn);
\draw[ar] (e63) -- (s63b.west);
\draw[ar] (432,671) -- (436,662);
\draw[ar] (452,423) .. controls (441,427) and (441,448) .. (456,452);
\draw[ar] (474,433) .. controls (468,433) and (465,436) .. (462,439);
\draw[ar] (441,480) .. controls (442,474) and (446,473) .. (454,473);
\draw[ar] (441,500) .. controls (443,507) and (452,507) .. (465,507);
\draw[ar] (dAsp) .. controls (418,702) and (435,712) .. (dArgs);
\draw[ar] (dCitr) .. controls (422,712) and (440,711) .. (dArgs);
\draw[ar] (dArgs) -- (dAla);
\draw[ar] (495,725) -- (dFumA);
\draw[ar] (451,729) -- (444,741);
\draw[ar] (455,729) .. controls (460,733) and (461,740) .. (462,746);
\draw[dar] (dAla) -- (dPyrA);
\draw[ar] (524,768) .. controls (520,760) and (514,757) .. (508,757);
\draw[ln] (524,782) .. controls (520,790) and (515,792) .. (506,792);
\draw[ar,midar=0.45] (dAla) -- (645,741) .. controls (666,741) and (672,752) .. (dPrc2);
% aromatic
\draw[ln] (dDKFP) -- (e18);
\draw[ar] (e18) -- (dADTH);
\draw[ln] (483,270) .. controls (490,267) and (494,261) .. (496,255);
\draw[ar] (dADTH) -- (dDHQ);
\draw[ar] (dDHQ) -- (dDHS);
\draw[dar] (dDHS) -- (dShik);
\draw[ar] (571,278) -- (557,286);
\draw[ar] (578,279) -- (579,287);
\draw[ar] (dShik) -- (d5PS);
\draw[ar] (630,257) .. controls (620,259) and (620,271) .. (636,272);
\draw[ar] (d5PS) -- (dEPS);
\draw[ar] (639,297) .. controls (628,299) and (628,308) .. (642,309);
\draw[ar] (dEPS) -- (mChor);
\draw[ar] (603,334) .. controls (601,340) and (598,342) .. (593,342);
\draw[ar] (mChor) -- (574,341);
\draw[ar] (mChor) -- (tFol.west);
\draw[ar] (mChor) -- (dIsoc);
\draw[ar] (mChor) -- (dAnth);
\draw[ln] (594,363) .. controls (601,364) and (604,369) .. (604,374);
\draw[ar] (604,374) .. controls (601,378) and (595,378) .. (584,378);
\draw[ar] (604,380) .. controls (602,387) and (596,390) .. (588,390);
\draw[ar] (dAnth) -- (dTrp);
\draw[ln] (591,417) .. controls (600,418) and (604,422) .. (604,427);
\draw[ar] (604,427) .. controls (600,431) and (592,431) .. (583,431);
\draw[ar] (dIsoc) -- (688,415);
\draw[ar] (688,422) -- (tMena.north -| dIsoc);
\draw[ar] (717,383) .. controls (713,385) and (711,388) .. (707,389);
\draw[ln] (696,407) .. controls (690,408) and (689,412) .. (689,416);
% cobalamin
\draw[ar] (dPrc2) -- (dShc);
\draw[ar] (dShc) -- (dSirh);
\draw[ln] (e67.east) -- (dShc);
\draw[ar] (650,785) -- (644,793);
\draw[ar] (672,782) .. controls (674,788) and (675,792) .. (675,795);
\draw[ar] (dShc) -- (dCp2);
\draw[ar] (dCp2) -- (dCp3);
\draw[ar] (dCp3) -- (dCp4);
\draw[ar] (dCp4) -- (dCp5);
\draw[ar] (dCp5) -- (dCp6A);
\draw[ar] (dCp6A) -- (dCp6B);
\draw[ar] (dCp6B) -- (dCp8X);
\draw[ar] (dCp8X) -- (dCby);
\draw[ar] (594,810) .. controls (600,811) and (602,818) .. (604,822);
\draw[ar] (594,837) .. controls (600,838) and (601,844) .. (603,847);
\draw[ar] (594,863) .. controls (600,864) and (600,868) .. (602,870);
\draw[ar] (dCby) -- (627,995) .. controls (627,1003) .. (637,1003) -- (dCob2);
\draw[ar] (dCob2) -- (dAdo);
\draw[ar] (dAdo2) -- (dCbl);
\draw[ar] (738,996) .. controls (732,1000) and (727,1003) .. (722,1003);
\draw[ar] (717,1064) -- (732,1057);
\draw[ar] (717,1069) -- (737,1071);
\end{pgfonlayer}
\end{tikzpicture}
\end{document}
